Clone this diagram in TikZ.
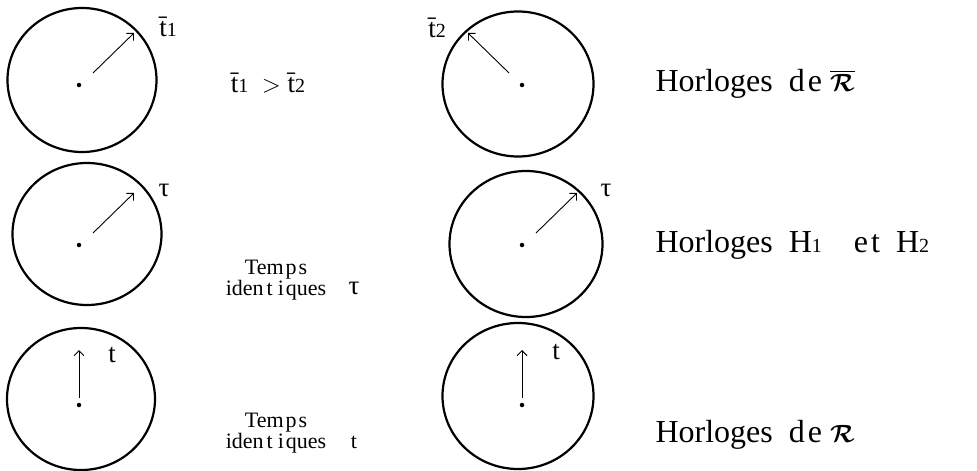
\documentclass[tikz,border=0pt]{standalone}
\usepackage{amsmath}
\usepackage{fontspec}
\setmainfont{Liberation Serif}
\usetikzlibrary{calc}
\usetikzlibrary{shapes}
\usetikzlibrary{arrows.meta}

\newcommand{\sub}[1]{{\fontsize{20}{20}\selectfont #1}}

\begin{document}
\begin{tikzpicture}[x=1pt,y=-1pt,>={Straight Barb[length=5pt,width=10pt]},
  clock/.style={draw,ellipse,line width=2.2pt,inner sep=0pt},
  pin/.style={circle,fill,inner sep=0pt,minimum size=4.5pt},
  lbl/.style={font=\fontsize{27}{28}\selectfont},
  legend/.style={font=\fontsize{32}{34}\selectfont,anchor=west},
  note/.style={font=\fontsize{22}{16}\selectfont,align=center}]
\useasboundingbox (0,0) rectangle (977,471);

% clocks of R-bar
\node[clock, name=clock_1, minimum width=149pt, minimum height=144pt] at (82,80) {};
\node[clock, name=clock_2, minimum width=151pt, minimum height=145pt] at (518,84) {};
% clocks H1 and H2
\node[clock, name=clock_3, minimum width=149pt, minimum height=142pt] at (87,234) {};
\node[clock, name=clock_4, minimum width=153pt, minimum height=146pt] at (526,244) {};
% clocks of R
\node[clock, name=clock_5, minimum width=148pt, minimum height=142pt] at (81,399) {};
\node[clock, name=clock_6, minimum width=151pt, minimum height=146pt] at (518,396) {};

\node[pin, name=pin_1] at (79,85) {};
\node[pin, name=pin_2] at (522,85) {};
\node[pin, name=pin_3] at (79,245) {};
\node[pin, name=pin_4] at (522,245) {};
\node[pin, name=pin_5] at (79,405) {};
\node[pin, name=pin_6] at (522,405) {};

\coordinate (hand_1_base) at (93,73);   \coordinate (hand_1_tip) at (134,33);
\coordinate (hand_2_base) at (509,73);  \coordinate (hand_2_tip) at (468,33);
\coordinate (hand_3_base) at (93,233);  \coordinate (hand_3_tip) at (134,193);
\coordinate (hand_4_base) at (536,233); \coordinate (hand_4_tip) at (577,193);
\coordinate (hand_5_base) at (79,398);  \coordinate (hand_5_tip) at (79,350);
\coordinate (hand_6_base) at (522,398); \coordinate (hand_6_tip) at (522,350);

\foreach \i in {1,...,6}
  \draw[line width=0.9pt] (hand_\i_base) edge[->] (hand_\i_tip);

\node[lbl, name=time_1] at (168,27) {\=t\sub{1}};
\node[lbl, name=time_2] at (437,28) {\=t\sub{2}};
\node[lbl, name=tau_1] at (164,190) {τ};
\node[lbl, name=tau_2] at (606,190) {τ};
\node[lbl, name=t_1] at (112,355) {t};
\node[lbl, name=t_2] at (556,352) {t};

\node[lbl, name=compare] at (268,83) {\=t\sub{1}\ \ $>$ \=t\sub{2}};

\node[note, name=same_tau] at (276,280) {Tem\kern2pt p\kern2pt s\\iden\kern3pt t\kern5pt i\kern2pt ques};
\node[lbl, name=same_tau_sym] at (354,288) {τ};
\node[note, name=same_t] at (276,433) {Tem\kern2pt p\kern2pt s\\iden\kern3pt t\kern5pt i\kern2pt ques};
\node[note, name=same_t_sym] at (354,442) {t};

\node[legend, name=legend_1] at (652,84) {Horloges\ \ d\kern3pt e $\overline{\boldsymbol{\mathcal{R}}}$};
\node[legend, name=legend_2] at (652,245) {Horloges\ \ H\sub{1}\ \ \ \ e\kern3pt t\ \ H\sub{2}};
\node[legend, name=legend_3] at (652,435) {Horloges\ \ d\kern3pt e $\boldsymbol{\mathcal{R}}$};
\end{tikzpicture}
\end{document}
